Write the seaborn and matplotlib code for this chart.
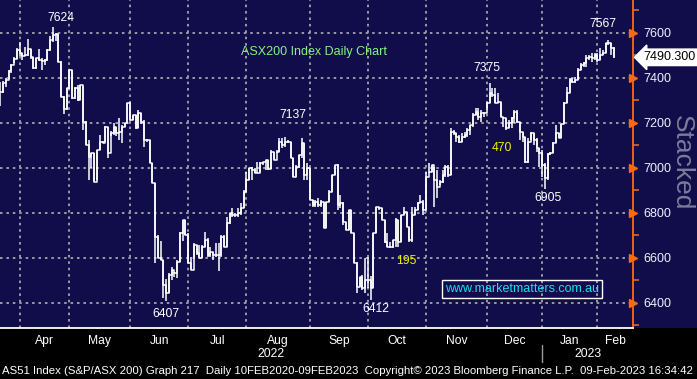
import matplotlib
matplotlib.use("Agg")
import matplotlib.pyplot as plt
import matplotlib.transforms as mtransforms
from matplotlib.patches import Rectangle
import numpy as np
import pandas as pd
import seaborn as sns

# ASX200 daily bars, 23-Mar-2022 .. 09-Feb-2023
start_date = "2022-03-23"
end_date = "2023-02-09"
holidays = ["2022-04-15", "2022-04-18", "2022-04-25", "2022-06-13", "2022-09-22",
            "2022-12-26", "2022-12-27", "2023-01-02", "2023-01-26"]

highs = [7382, 7385, 7400, 7435, 7462, 7490, 7530, 7560, 7510, 7538,
         7570, 7528, 7492, 7488, 7526, 7486, 7482, 7528, 7585, 7624,
         7600, 7594, 7475, 7318, 7355, 7436, 7434, 7360, 7368, 7368,
         7362, 7206, 7123, 7066, 7066, 7080, 7145, 7118, 7185, 7182,
         7165, 7197, 7182, 7220, 7190, 7200, 7289, 7290, 7236, 7234,
         7257, 7245, 7212, 7128, 7123, 7022, 6934, 6700, 6672, 6590,
         6505, 6531, 6560, 6538, 6590, 6716, 6768, 6768, 6709, 6605,
         6664, 6657, 6657, 6657, 6716, 6686, 6649, 6627, 6664, 6664,
         6700, 6701, 6783, 6797, 6820, 6797, 6820, 6842, 6901, 6983,
         6997, 7005, 6997, 7027, 7027, 7027, 7034, 7034, 7079, 7071,
         7079, 7131, 7131, 7137, 7123, 7116, 7042, 7012, 7057, 7131,
         7108, 7019, 6997, 6857, 6857, 6864, 6857, 6849, 6849, 6901,
         6968, 7012, 7018, 6879, 6849, 6760, 6812, 6812, 6709, 6583,
         6516, 6523, 6597, 6605, 6520, 6709, 6827, 6827, 6820, 6768,
         6709, 6671, 6679, 6775, 6768, 6790, 6827, 6805, 6738, 6827,
         6827, 6849, 6879, 6857, 6983, 7020, 7012, 7005, 6990, 6945,
         6990, 7012, 7012, 7175, 7168, 7153, 7145, 7153, 7160, 7175,
         7190, 7242, 7264, 7264, 7256, 7249, 7293, 7375, 7353, 7353,
         7331, 7293, 7227, 7220, 7212, 7227, 7256, 7256, 7205, 7160,
         7138, 7131, 7160, 7153, 7131, 7086, 7079, 7020, 7064, 7071,
         7116, 7190, 7153, 7196, 7290, 7360, 7397, 7397, 7405, 7442,
         7464, 7471, 7501, 7501, 7508, 7508, 7508, 7531, 7523, 7553,
         7567, 7553, 7538]

lows = [7276, 7330, 7360, 7395, 7420, 7465, 7485, 7495, 7480, 7495,
        7498, 7485, 7438, 7440, 7475, 7435, 7455, 7476, 7520, 7560,
        7565, 7468, 7313, 7239, 7255, 7350, 7305, 7305, 7298, 7300,
        7168, 7100, 6945, 6997, 6938, 6945, 7079, 7108, 7116, 7041,
        7140, 7145, 7140, 7123, 7108, 7180, 7195, 7210, 7210, 7170,
        7175, 7195, 7094, 7115, 7020, 6934, 6575, 6597, 6590, 6420,
        6407, 6442, 6501, 6516, 6509, 6579, 6672, 6701, 6575, 6546,
        6605, 6612, 6597, 6597, 6649, 6605, 6605, 6590, 6605, 6543,
        6605, 6649, 6649, 6750, 6783, 6783, 6783, 6790, 6820, 6894,
        6945, 6945, 6975, 6975, 6983, 7012, 6990, 6990, 6993, 7034,
        7064, 7071, 7086, 7094, 7108, 7042, 6960, 6960, 6997, 7042,
        6945, 6945, 6857, 6827, 6827, 6827, 6827, 6731, 6731, 6849,
        6894, 6968, 6812, 6820, 6746, 6723, 6723, 6709, 6575, 6442,
        6472, 6457, 6442, 6464, 6412, 6464, 6709, 6812, 6768, 6664,
        6649, 6642, 6642, 6649, 6649, 6671, 6790, 6738, 6671, 6671,
        6790, 6812, 6842, 6790, 6812, 6975, 6983, 6827, 6864, 6923,
        6931, 6960, 6960, 6968, 7145, 7116, 7108, 7116, 7131, 7138,
        7145, 7182, 7234, 7212, 7205, 7227, 7264, 7286, 7316, 7286,
        7286, 7227, 7182, 7168, 7175, 7175, 7197, 7197, 7123, 7116,
        7020, 7020, 7123, 7101, 7071, 7005, 6960, 6905, 6946, 7057,
        7064, 7108, 7131, 7131, 7196, 7286, 7331, 7375, 7375, 7390,
        7434, 7449, 7449, 7479, 7471, 7479, 7471, 7479, 7501, 7508,
        7545, 7501, 7486]

closes = [7338, 7375, 7390, 7430, 7455, 7485, 7525, 7508, 7495, 7500,
          7526, 7490, 7441, 7486, 7478, 7476, 7478, 7523, 7567, 7590,
          7594, 7471, 7316, 7259, 7353, 7434, 7308, 7353, 7300, 7367,
          7205, 7101, 7049, 7064, 6938, 7079, 7116, 7111, 7182, 7065,
          7153, 7182, 7153, 7160, 7182, 7197, 7286, 7212, 7234, 7175,
          7242, 7205, 7123, 7123, 7020, 6934, 6694, 6597, 6590, 6479,
          6442, 6523, 6546, 6534, 6583, 6709, 6768, 6701, 6575, 6546,
          6657, 6620, 6598, 6649, 6679, 6612, 6627, 6612, 6612, 6612,
          6694, 6649, 6753, 6797, 6790, 6790, 6797, 6820, 6894, 6945,
          6997, 6990, 6975, 6975, 7019, 7027, 7034, 6993, 7071, 7034,
          7071, 7116, 7101, 7116, 7116, 7042, 6960, 7005, 7057, 7108,
          6968, 6997, 6857, 6834, 6849, 6834, 6849, 6731, 6849, 6894,
          6968, 7012, 6834, 6842, 6760, 6723, 6812, 6709, 6575, 6472,
          6516, 6464, 6501, 6501, 6464, 6709, 6827, 6820, 6768, 6671,
          6649, 6649, 6679, 6768, 6671, 6790, 6805, 6738, 6679, 6790,
          6812, 6842, 6849, 6812, 6960, 6983, 7012, 6945, 6916, 6938,
          6968, 7005, 6968, 7160, 7153, 7138, 7116, 7138, 7145, 7168,
          7190, 7234, 7249, 7227, 7242, 7242, 7286, 7331, 7323, 7286,
          7293, 7227, 7220, 7175, 7197, 7220, 7249, 7205, 7160, 7138,
          7027, 7116, 7153, 7123, 7086, 7064, 7012, 6953, 7061, 7064,
          7109, 7153, 7131, 7196, 7286, 7331, 7390, 7382, 7390, 7434,
          7456, 7464, 7486, 7493, 7486, 7501, 7479, 7501, 7508, 7553,
          7553, 7531, 7490.3]

price_ticks = [6400, 6600, 6800, 7000, 7200, 7400, 7600]

# chart annotations, anchored at (day index, price level) of the text centre
peak_labels = ["7624", "6407", "7137", "6412", "7375", "6905", "7567"]
peak_label_days = [22, 60, 106, 136, 176, 198, 218]
peak_label_levels = [7665, 6350, 7234, 6372, 7443, 6865, 7639]
move_labels = ["470", "195"]
move_label_days = [181.6, 146.9]
move_label_levels = [7087, 6585]

title_text = "ASX200 Index Daily Chart"
site_text = "www.marketmatters.com.au"
footer_text = ("AS51 Index (S&P/ASX 200) Graph 217  Daily 10FEB2020-09FEB2023  "
               "Copyright\u00a9 2023 Bloomberg Finance L.P.  09-Feb-2023 16:34:42")

NAVY = "#110d4b"
ORANGE = "#ff6a0d"
GRID = "#9a9aa6"

sns.set_style("dark")
plt.rcParams["font.family"] = ["Liberation Sans", "DejaVu Sans"]

dates = pd.bdate_range(start_date, end_date)
dates = dates[~dates.isin(pd.to_datetime(holidays))]
assert len(dates) == len(closes) == len(highs) == len(lows)
df = pd.DataFrame({"day": np.arange(len(dates)), "date": dates,
                   "high": highs, "low": lows, "close": closes})

W, H = 697, 379
fig = plt.figure(figsize=(W / 100, H / 100), dpi=100, facecolor="black")
plot_h = 327.7
fig.patches.append(Rectangle((0, 1 - plot_h / H), 1, plot_h / H, transform=fig.transFigure,
                             facecolor=NAVY, edgecolor="none", zorder=-10))
ax = fig.add_axes([0, 1 - plot_h / H, 633.3 / W, plot_h / H])
ax.set_facecolor(NAVY)

x_min, x_max = -0.1, 229.0
ax.set_xlim(x_min, x_max)
ax.set_ylim(6289, 7745)

# month boundaries from the trading calendar
month_id = df["date"].dt.to_period("M")
month_starts = df.index[month_id != month_id.shift()].tolist()[1:]
month_names = [df["date"][i].strftime("%b") for i in month_starts]
edges = month_starts + [x_max]
month_centers = [(a + b) / 2 for a, b in zip(edges[:-1], edges[1:])]

# grid
for m in month_starts:
    ax.axvline(m, color=GRID, lw=1.4, ls=(0, (1.3, 2.0)), zorder=1)
for p in price_ticks:
    ax.axhline(p, color=GRID, lw=1.4, ls=(0, (1.3, 2.0)), zorder=1)

# bars: high-low range plus close staircase
ax.vlines(df["day"], df["low"], df["high"], color="white", lw=1.1, zorder=3)
sns.lineplot(data=df, x="day", y="close", ax=ax, color="white", lw=1.1,
             drawstyle="steps-post", estimator=None, sort=False, zorder=3)

# axes styling
for s in ["top", "left"]:
    ax.spines[s].set_visible(False)
ax.spines["bottom"].set_color("white")
ax.spines["bottom"].set_linewidth(1.3)
ax.spines["right"].set_color(ORANGE)
ax.spines["right"].set_linewidth(1.3)
ax.set_xlabel("")
ax.set_ylabel("")

ax.set_xticks(month_starts)
ax.set_xticklabels([])
ax.tick_params(axis="x", which="major", direction="out", length=3, width=1, color="white")
ax.set_xticks(month_centers, minor=True)
ax.set_xticklabels(month_names, minor=True)
ax.tick_params(axis="x", which="minor", length=0, pad=5, labelsize=8.7, labelcolor="white")

ax.yaxis.tick_right()
ax.set_yticks(price_ticks)
ax.set_yticklabels([str(p) for p in price_ticks])
ax.set_yticks(np.arange(6300, 7701, 100), minor=True)
ax.tick_params(axis="y", which="major", direction="out", length=0, pad=7,
               labelsize=9, labelcolor="#f0f0f8")
ax.tick_params(axis="y", which="minor", direction="out", length=4, width=1.1, color=ORANGE)
ax.grid(False)

# orange arrow heads on the major price ticks
tr_y = mtransforms.blended_transform_factory(ax.transAxes, ax.transData)
ax.plot(np.full(len(price_ticks), 1.0), price_ticks, ls="none", marker=">", ms=6,
        mfc=ORANGE, mec=ORANGE, transform=tr_y, clip_on=False, zorder=5)

# year labels and separator
year_id = df["date"].dt.year
year_edges = [x_min] + df.index[year_id != year_id.shift()].tolist()[1:] + [x_max]
years = sorted(year_id.unique())
tr_x = mtransforms.blended_transform_factory(ax.transData, fig.transFigure)
for yr, a, b in zip(years, year_edges[:-1], year_edges[1:]):
    ax.text((a + b) / 2, 1 - 354 / H, str(yr), transform=tr_x, ha="center", va="center",
            color="white", fontsize=8.7)
for b in year_edges[1:-1]:
    ax.plot([b, b], [1 - 345 / H, 1 - 362 / H], color="#9a9a9a", lw=1, transform=tr_x,
            clip_on=False)

# last price box
ax.annotate(f"{closes[-1]:.3f}", xy=(1.0, closes[-1]), xycoords=tr_y,
            xytext=(10, 0), textcoords="offset pixels", ha="left", va="center",
            fontsize=9, color="black", annotation_clip=False,
            bbox=dict(boxstyle="larrow,pad=0.18", fc="white", ec="white"))

# peak / trough and move labels
for lab, d, v in zip(peak_labels, peak_label_days, peak_label_levels):
    ax.text(d, v, lab, ha="center", va="center", color="white", fontsize=8.7, zorder=4)
for lab, d, v in zip(move_labels, move_label_days, move_label_levels):
    ax.text(d, v, lab, ha="center", va="center", color="#f0f000", fontsize=8.7, zorder=4)

fig.text(314 / W, 1 - 52 / H, title_text, ha="center", va="center", color="#86f086",
         fontsize=9)
fig.text(522 / W, 1 - 289 / H, site_text, ha="center", va="center", color="#18e0f0",
         fontsize=9, bbox=dict(boxstyle="square,pad=0.25", fc="none", ec="white", lw=1))
fig.text(682 / W, 1 - 163 / H, "Stacked", rotation=-90, ha="center", va="center",
         color="#7c7c98", fontsize=19, zorder=0)
fig.text(2 / W, 1 - 371 / H, footer_text, ha="left", va="center", color="white",
         fontsize=8.2)

fig.savefig("out.png", dpi=100, facecolor="black")
